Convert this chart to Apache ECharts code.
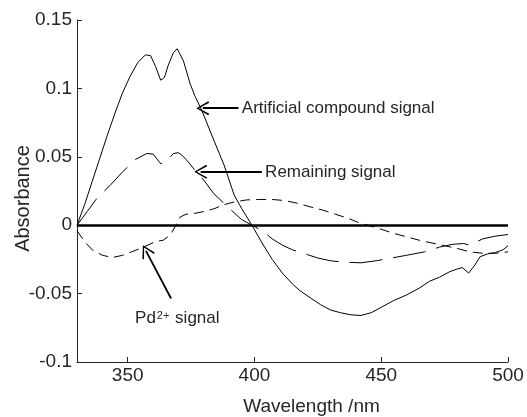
<!DOCTYPE html>
<html>
<head>
<meta charset="utf-8">
<script src="https://cdn.jsdelivr.net/npm/echarts@6/dist/echarts.min.js"></script>
<style>
html,body{margin:0;padding:0;background:#fff;}
#c{width:527px;height:417px;}
</style>
</head>
<body>
<div id="c"></div>
<script>
// Artificial compound signal (solid)
const artX = [330,333,336,339,342,345,348,351,354,357,359,361,363,364.5,366,368,369.5,372,374.6,376.6,379,384,388,392,395,399,403,407,411,415,418,422,426,430,434,438,442,446,450,455,460,465,469,473,477,480,482,484.5,487,489,492,495,498,500];
const artY = [0,0.015,0.032,0.049,0.066,0.082,0.097,0.109,0.119,0.1245,0.124,0.116,0.106,0.108,0.117,0.126,0.129,0.120,0.1035,0.094,0.085,0.062,0.044,0.022,0.012,0,-0.013,-0.025,-0.035,-0.043,-0.048,-0.053,-0.058,-0.062,-0.064,-0.0655,-0.066,-0.064,-0.060,-0.055,-0.051,-0.046,-0.041,-0.038,-0.034,-0.032,-0.031,-0.035,-0.029,-0.023,-0.021,-0.020,-0.018,-0.015];
// Remaining signal (long dash)
const remX = [330,334,338,343,348,353,357.5,360,363,365,368,370,371.5,374,377,380,384,388,392,395,399,403,407,411,415,420,425,430,435,442,448,454,460,467,473,478,482.5,485,490,495,500];
const remY = [0,0.010,0.020,0.029,0.039,0.048,0.0524,0.052,0.045,0.046,0.0524,0.053,0.051,0.046,0.039,0.033,0.023,0.016,0.009,0.004,0,-0.004,-0.010,-0.0146,-0.018,-0.021,-0.024,-0.026,-0.027,-0.0275,-0.026,-0.024,-0.022,-0.0195,-0.016,-0.014,-0.0134,-0.0146,-0.010,-0.008,-0.0068];
// Pd2+ signal (short dash)
const pdX = [330,333,336,340,344,348,351.5,355,358,361,364,366.7,368.7,370.7,373,376,380,384,388,392,397,402,407,412,417,422,427,432,437,441,446,450,455,460,465,470,475,480,485,490,495,500];
const pdY = [-0.004,-0.012,-0.018,-0.022,-0.0236,-0.022,-0.0195,-0.017,-0.0145,-0.012,-0.011,-0.0073,-0.0012,0.006,0.008,0.0085,0.010,0.012,0.015,0.017,0.0185,0.0188,0.0188,0.018,0.016,0.0134,0.011,0.008,0.005,0.002,-0.0007,-0.003,-0.006,-0.0085,-0.011,-0.013,-0.015,-0.017,-0.0195,-0.0205,-0.0205,-0.0195];

const xTicks = [350,400,450,500];
const yTicks = [-0.1,-0.05,0,0.05,0.1,0.15];

const FONT = "'Liberation Sans', Arial, sans-serif";
const AX = '#262626';

const pairs = (xs, ys) => xs.map((x,i)=>[x, ys[i]]);
const chevron = 'path://M0,0 L7,12 L5.6,13 L0,2.6 L-5.6,13 L-7,12 Z';
const arrow = (x0,y0,x1,y1) => [
  {coord:[x0,y0], symbol:'none'},
  {coord:[x1,y1], symbol:chevron, symbolSize:[14,13]}
];

const chart = echarts.init(document.getElementById('c'), null, {renderer:'canvas'});
chart.setOption({
  animation:false,
  backgroundColor:'#fff',
  grid:{left:77,right:19,top:20,bottom:55,containLabel:false,outerBoundsMode:'none'},
  xAxis:{
    type:'value', min:330, max:500,
    name:'Wavelength /nm', nameLocation:'middle', nameGap:35, nameMoveOverlap:false,
    nameTextStyle:{fontFamily:FONT,fontSize:19,color:AX,padding:[0,0,0,38]},
    axisLine:{onZero:false,lineStyle:{color:AX,width:1}},
    axisTick:{inside:true,length:5,customValues:xTicks,lineStyle:{color:AX}},
    axisLabel:{customValues:xTicks,fontFamily:FONT,fontSize:19,color:AX,margin:4},
    splitLine:{show:false}
  },
  yAxis:{
    type:'value', min:-0.1, max:0.15, interval:0.05,
    name:'Absorbance', nameLocation:'middle', nameGap:44, nameMoveOverlap:false,
    nameTextStyle:{fontFamily:FONT,fontSize:20,color:AX,padding:[0,15,0,0]},
    axisLine:{onZero:false,lineStyle:{color:AX,width:1}},
    axisTick:{inside:true,length:5,customValues:yTicks,lineStyle:{color:AX}},
    axisLabel:{customValues:yTicks,fontFamily:FONT,fontSize:19,color:AX,margin:5,
      formatter:v=>String(+(+v).toFixed(2))},
    splitLine:{show:false}
  },
  series:[
    {
      name:'Artificial compound signal', type:'line', data:pairs(artX,artY),
      showSymbol:false, smooth:false, lineStyle:{color:'#000',width:1},
      silent:true, z:3,
      markLine:{
        silent:true, animation:false, symbol:['none','none'],
        label:{show:false},
        data:[
          [{coord:[330,0],symbol:'none'},{coord:[500,0],symbol:'none',lineStyle:{color:'#000',width:2.5,type:'solid'}}],
          arrow(393.7,0.0855,379.6,0.0855),
          arrow(402.9,0.039,378.8,0.039),
          arrow(367.1,-0.0536,357.2,-0.0188)
        ],
        lineStyle:{color:'#000',width:1.8,type:'solid'}
      },
      markPoint:{
        silent:true, animation:false, symbol:'circle', symbolSize:0,
        label:{show:true,position:'right',distance:0,fontFamily:FONT,fontSize:17,color:AX},
        data:[
          {coord:[395.0,0.0855],label:{formatter:'Artificial compound signal'}},
          {coord:[404.2,0.039],label:{formatter:'Remaining signal'}},
          {coord:[352.9,-0.0682],label:{formatter:'{a|Pd}{s|2+}{a| signal}',
            rich:{a:{fontFamily:FONT,fontSize:17,color:AX},
                  s:{fontFamily:FONT,fontSize:11,color:AX,verticalAlign:'top',padding:[0,1,0,1]}}}}
        ]
      }
    },
    {
      name:'Remaining signal', type:'line', data:pairs(remX,remY),
      showSymbol:false, lineStyle:{color:'#000',width:1,type:[33,11]}, silent:true, z:3
    },
    {
      name:'Pd2+ signal', type:'line', data:pairs(pdX,pdY),
      showSymbol:false, lineStyle:{color:'#000',width:1,type:[10,6]}, silent:true, z:3
    }
  ]
});
</script>
</body>
</html>
